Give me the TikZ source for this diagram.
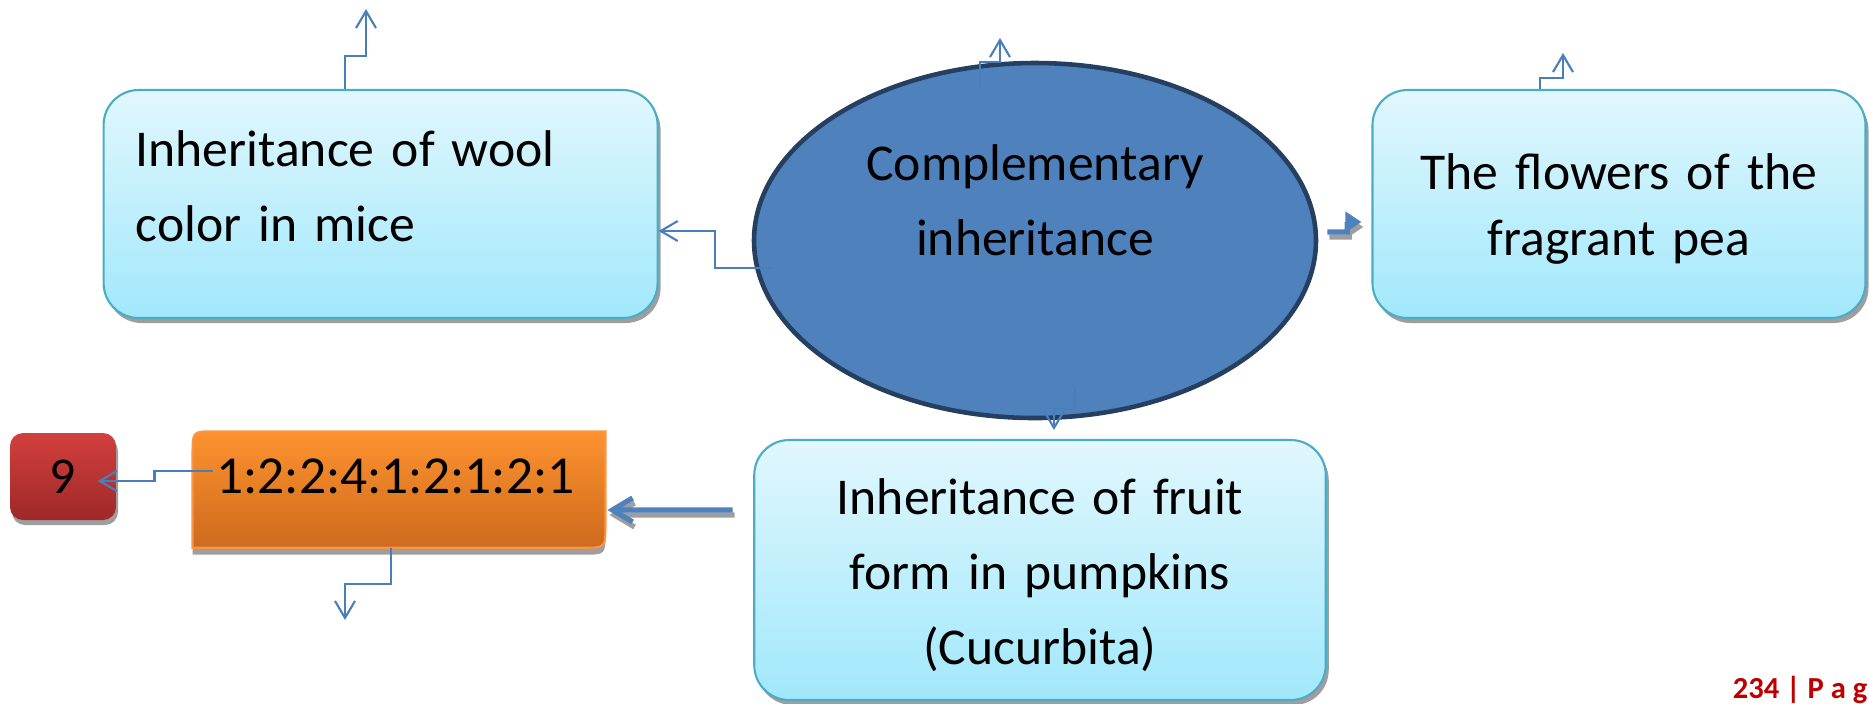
\documentclass[tikz,border=0pt]{standalone}
\usepackage{fontspec}
\setmainfont{Carlito}
\usepackage{tikz}
\usetikzlibrary{shapes}
\usetikzlibrary{backgrounds}
\usetikzlibrary{calc}
\usetikzlibrary{shadows}
\usetikzlibrary{positioning, arrows.meta}

\definecolor{bluetop}{RGB}{225,247,253}
\definecolor{bluebot}{RGB}{161,232,251}
\definecolor{blueedge}{RGB}{75,172,198}
\definecolor{ovalfill}{RGB}{79,129,189}
\definecolor{ovaledge}{RGB}{36,63,96}
\definecolor{connblue}{RGB}{74,126,187}
\definecolor{orangetop}{RGB}{253,146,46}
\definecolor{orangebot}{RGB}{206,106,30}
\definecolor{orangeedge}{RGB}{247,150,70}
\definecolor{redtop}{RGB}{210,64,62}
\definecolor{redbot}{RGB}{158,40,40}
\definecolor{pagered}{RGB}{192,0,0}

\newcommand{\boxfont}{\fontsize{14.7pt}{21.3pt}\selectfont}
\newcommand{\pagefont}{\fontsize{8.7pt}{9pt}\selectfont\bfseries}

\begin{document}
\begin{tikzpicture}[y=-1cm,
    every node/.style={font=\boxfont, inner sep=0pt},
    box/.style={rectangle, rounded corners=0.35cm, draw=blueedge, line width=0.6pt,
        top color=bluetop, bottom color=bluebot,
        drop shadow={shadow xshift=0.03cm, shadow yshift=-0.05cm, fill=black!38, opacity=1}},
    conn/.style={draw=connblue, line width=0.6pt, -{Straight Barb[length=0.17cm, width=0.2cm]}},
    bigarrow/.style={draw=ovalfill, line width=1.5pt},
    bigshadow/.style={draw=black!38, line width=1.5pt, transform canvas={xshift=0.02cm, yshift=-0.05cm}}]
    \useasboundingbox (0,0) rectangle (18.69,7.03);

    \node[ellipse, draw=ovaledge, line width=1.3pt, fill=ovalfill, minimum width=5.62cm,
        minimum height=3.55cm, text width=3.6cm, align=center, text depth=1.56cm] (ci) at (10.35,2.405)
        {Complementary\\inheritance};

    \node[box, minimum width=5.54cm, minimum height=2.28cm, text width=4.9cm, inner xsep=0.32cm,
        align=left, text depth=1.1cm] (wool) at (3.806,2.04) {Inheritance of wool\\color in mice};
    \node[box, minimum width=4.93cm, minimum height=2.28cm, text width=4.5cm, align=center,
        font=\fontsize{14.7pt}{18.6pt}\selectfont, text depth=0.64cm] (frag) at (16.19,2.04)
        {The flowers of the\\fragrant pea};
    \node[box, minimum width=5.715cm, minimum height=2.6cm, text width=5.0cm, align=center,
        text depth=1.46cm] (pump) at (10.40,5.70) {Inheritance of fruit\\form in pumpkins\\(Cucurbita)};

    \node[minimum width=4.115cm, minimum height=1.15cm, text width=3.655cm, inner xsep=0.23cm,
        align=left, text depth=0.26cm, font=\fontsize{15.2pt}{18pt}\selectfont] (ratio) at (3.99,4.895)
        {1:2:2:4:1:2:1:2:1};
    \node[rectangle, rounded corners=0.13cm, top color=redtop, bottom color=redbot,
        minimum width=1.06cm, minimum height=0.87cm,
        drop shadow={shadow xshift=0.02cm, shadow yshift=-0.05cm, fill=black!38, opacity=1}] (nine)
        at (0.63,4.765) {9};

    \node[anchor=base east, text=pagered, font=\pagefont] (pg) at (18.68,6.98) {234 | P a g};

    % Orange box, two round corners
    \begin{pgfonlayer}{background}
        \fill[black!38, transform canvas={yshift=-0.07cm}] (ratio.south west) -- ([yshift=-0.22cm]ratio.north west)
            .. controls (ratio.north west) .. ([xshift=0.22cm]ratio.north west) -- (ratio.north east)
            -- ([yshift=0.22cm]ratio.south east) .. controls (ratio.south east) .. ([xshift=-0.22cm]ratio.south east) -- cycle;
        \shade[top color=orangetop, bottom color=orangebot, draw=orangeedge, line width=0.6pt]
            (ratio.south west) -- ([yshift=-0.22cm]ratio.north west)
            .. controls (ratio.north west) .. ([xshift=0.22cm]ratio.north west) -- (ratio.north east)
            -- ([yshift=0.22cm]ratio.south east) .. controls (ratio.south east) .. ([xshift=-0.22cm]ratio.south east) -- cycle;
    \end{pgfonlayer}

    % Free ends
    \coordinate (woolup) at (3.66,0.09);
    \coordinate (ciup) at (10.00,0.38);
    \coordinate (cidown) at (10.54,4.30);
    \coordinate (fragup) at (15.63,0.53);
    \coordinate (ratiodown) at (3.45,6.20);
    \coordinate (woolin) at ([yshift=-0.27cm]wool.east);
    \coordinate (ninein) at ([xshift=-0.19cm, yshift=-0.045cm]nine.east);

    % Thin elbow arrows
    \draw[conn] ([xshift=-0.36cm]wool.north) -- ++(0,-0.33) -| (woolup);
    \draw[conn] ([xshift=-0.55cm, yshift=-0.28cm]ci.north) -- ++(0,-0.27) -| (ciup);
    \draw[conn] ([xshift=0.4cm, yshift=0.33cm]ci.south) -- ++(0,0.22) -| (cidown);
    \draw[conn] ([xshift=0.22cm, yshift=-0.275cm]ci.west) -- ++(-0.59,0) |- (woolin);
    \draw[conn] ([xshift=-0.79cm]frag.north) -- ++(0,-0.11) -| (fragup);
    \draw[conn] ([xshift=0.2cm, yshift=0.185cm]ratio.west) -- ++(-0.58,0) |- (ninein);
    \draw[conn] ([xshift=-0.08cm]ratio.south) -- ++(0,0.36) -| (ratiodown);

    % Thick arrows
    \coordinate (cistart) at ([xshift=0.09cm, yshift=0.085cm]ci.east);
    \coordinate (fragin) at ([xshift=-0.1cm, yshift=-0.18cm]frag.west);
    \draw[bigshadow, -{Triangle[length=0.16cm, width=0.2cm]}] (cistart) -- ++(0.2,0) -- ++(0,-0.1) -- (fragin);
    \draw[bigarrow, -{Triangle[length=0.16cm, width=0.2cm]}] (cistart) -- ++(0.2,0) -- ++(0,-0.1) -- (fragin);

    \coordinate (pumpout) at ([xshift=-0.205cm, yshift=0.6cm]pump.west);
    \coordinate (ratioin) at ([xshift=0.02cm, yshift=-0.205cm]ratio.east);
    \draw[bigshadow, -{Straight Barb[length=0.2cm, width=0.24cm]}] (pumpout) -- (ratioin);
    \draw[bigarrow, -{Straight Barb[length=0.2cm, width=0.24cm]}] (pumpout) -- (ratioin);
\end{tikzpicture}
\end{document}
